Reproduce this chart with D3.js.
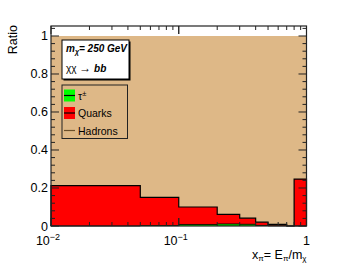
<!DOCTYPE html>
<html>
<head>
<meta charset="utf-8">
<script src="https://cdn.jsdelivr.net/npm/d3@7"></script>
<style>
  body { margin: 0; background: #fff; }
  text { font-family: "Liberation Sans", Arial, sans-serif; }
</style>
</head>
<body>
<svg id="main-svg" width="341" height="264"></svg>
<script>
// bin edges in x = E_pi / m_chi
var binEdges = [0.01, 0.05, 0.1, 0.2, 0.3, 0.4, 0.5, 0.7, 0.8, 1];
// fractions per bin
var quarks = [0.212, 0.151, 0.100, 0.061, 0.041, 0.020, 0.009, 0.0, 0.247];
var taus   = [0.0, 0.002, 0.008, 0.011, 0.009, 0.003, 0.001, 0.0, 0.0];
var hadronTop = 1;

var yTicks = [0, 0.2, 0.4, 0.6, 0.8, 1];
var xTicks = [0.01, 0.1, 1];

var legendItems = [
    {label: "\u03c4", sup: "\u00b1", fill: "#00ff00", line: "#000"},
    {label: "Quarks", sup: "", fill: "#ff0000", line: "#000"},
    {label: "Hadrons", sup: "", fill: "#deb887", line: "#6b4f2a"}
];

var svg = d3.select("#main-svg");
// frame edges (plain "top" is window.top, so use other names)
var padL = 51, padR = 306.5, padT = 26, padB = 226;

var x = d3.scaleLog().domain([0.01, 1]).range([padL, padR]);
var y = d3.scaleLinear().domain([0, 1.0526]).range([padB, padT]);

// hadrons fill everything up to 1
svg.append("rect")
    .attr("x", x(0.01)).attr("y", y(hadronTop))
    .attr("width", x(1) - x(0.01)).attr("height", y(0) - y(hadronTop))
    .attr("fill", "#deb887");

function stepPath(vals) {
    var pts = [[x(binEdges[0]), y(0)]];
    vals.forEach(function (v, i) {
        pts.push([x(binEdges[i]), y(v)]);
        pts.push([x(binEdges[i + 1]), y(v)]);
    });
    pts.push([x(binEdges[binEdges.length - 1]), y(0)]);
    return d3.line()(pts);
}

svg.append("path").attr("d", stepPath(quarks))
    .attr("fill", "#ff0000").attr("stroke", "#000").attr("stroke-width", 1.2);
svg.append("path").attr("d", stepPath(taus))
    .attr("fill", "#00dd00").attr("stroke", "#000").attr("stroke-width", 0.8);

// frame
svg.append("rect")
    .attr("x", padL).attr("y", padT)
    .attr("width", padR - padL).attr("height", padB - padT)
    .attr("fill", "none").attr("stroke", "#222").attr("stroke-width", 1.2);

// y ticks (both sides, inward)
var axes = svg.append("g").attr("stroke", "#222").attr("stroke-width", 1);
d3.range(0, 1.0401, 0.04).forEach(function (v, i) {
    var len = (i % 5 === 0) ? 8 : 4;
    axes.append("line").attr("x1", padL).attr("x2", padL + len)
        .attr("y1", y(v)).attr("y2", y(v));
    axes.append("line").attr("x1", padR).attr("x2", padR - len)
        .attr("y1", y(v)).attr("y2", y(v));
});
// x ticks (log, both sides)
[0.01, 0.1].forEach(function (d) {
    for (var k = 1; k <= 10; k++) {
        var v = d * k;
        var len = (k === 1 || k === 10) ? 8 : 4;
        axes.append("line").attr("x1", x(v)).attr("x2", x(v))
            .attr("y1", padB).attr("y2", padB - len);
        axes.append("line").attr("x1", x(v)).attr("x2", x(v))
            .attr("y1", padT).attr("y2", padT + len);
    }
});

// y labels
yTicks.forEach(function (v) {
    svg.append("text").attr("x", padL - 3).attr("y", y(v) + 4.5)
        .attr("text-anchor", "end").attr("font-size", 12.5)
        .text(v === 0 || v === 1 ? v : v.toFixed(1));
});
// x labels
xTicks.forEach(function (v) {
    var t = svg.append("text").attr("x", x(v)).attr("y", 245)
        .attr("text-anchor", "middle").attr("font-size", 12.5);
    if (v === 1) { t.text("1"); }
    else {
        t.attr("dx", -3);
        t.append("tspan").text("10");
        t.append("tspan").attr("dy", -5).attr("font-size", 9).text("\u2212" + Math.round(-Math.log10(v)));
    }
});

// axis titles
svg.append("text").attr("transform", "translate(17,25) rotate(-90)")
    .attr("text-anchor", "end").attr("font-size", 12.5).text("Ratio");
var xt = svg.append("text").attr("x", padR).attr("y", 259)
    .attr("text-anchor", "end").attr("font-size", 12.5);
xt.append("tspan").text("x");
xt.append("tspan").attr("font-size", 8).attr("dy", 2).text("\u03c0");
xt.append("tspan").attr("dy", -2).text("= E");
xt.append("tspan").attr("font-size", 8).attr("dy", 2).text("\u03c0");
xt.append("tspan").attr("dy", -2).text("/m");
xt.append("tspan").attr("font-size", 8).attr("dy", 2).text("\u03c7");

// info box with shadow
svg.append("rect").attr("x", 63.5).attr("y", 41.5).attr("width", 67).attr("height", 39).attr("fill", "#000");
svg.append("rect").attr("x", 62).attr("y", 40).attr("width", 67).attr("height", 39)
    .attr("fill", "#fff").attr("stroke", "#000").attr("stroke-width", 1);
var t1 = svg.append("text").attr("x", 66).attr("y", 52).attr("font-size", 10)
    .attr("font-weight", "bold").attr("font-style", "italic");
t1.append("tspan").text("m");
t1.append("tspan").attr("font-size", 7).attr("dy", 2).text("\u03c7");
t1.append("tspan").attr("dy", -2).text("= 250 GeV");
var t2 = svg.append("text").attr("x", 66).attr("y", 72).attr("font-size", 10);
t2.append("tspan").text("\u03c7\u03c7 ");
t2.append("tspan").attr("font-size", 12).text("\u2192");
t2.append("tspan").text(" ");
t2.append("tspan").attr("font-weight", "bold").attr("font-style", "italic").text("bb");

// legend
svg.append("rect").attr("x", 62).attr("y", 85).attr("width", 65.5).attr("height", 53.5)
    .attr("fill", "none").attr("stroke", "#222").attr("stroke-width", 1);
legendItems.forEach(function (d, i) {
    var cy = 95.5 + i * 17.5;
    svg.append("rect").attr("x", 64).attr("y", cy - 6).attr("width", 11).attr("height", 12).attr("fill", d.fill);
    svg.append("line").attr("x1", 64).attr("x2", 75).attr("y1", cy).attr("y2", cy)
        .attr("stroke", d.line).attr("stroke-width", 1.2);
    var t = svg.append("text").attr("x", 78).attr("y", cy + 4).attr("font-size", 10.5);
    t.append("tspan").text(d.label);
    if (d.sup) t.append("tspan").attr("dy", -4).attr("font-size", 7.5).text(d.sup);
});
</script>
</body>
</html>
